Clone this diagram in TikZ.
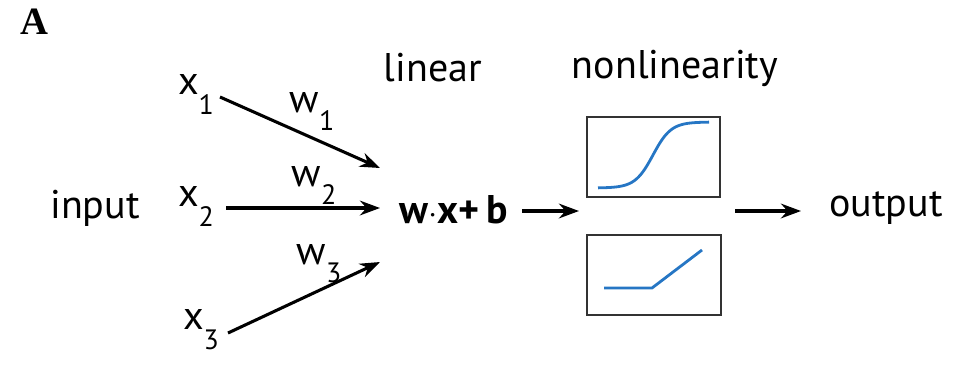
\documentclass[tikz,border=0pt]{standalone}
\usepackage{fontspec}
\setmainfont{PT Sans}
\newfontfamily\panelfont{Liberation Serif}
\usetikzlibrary{arrows.meta}
\definecolor{curveblue}{RGB}{38,118,196}

\tikzset{every picture/.style={line width=0.75pt}}
\tikzset{
  lbl/.style={inner sep=0.75pt, font=\fontsize{30}{34}\selectfont},
  weight/.style={-{Stealth[length=15pt,width=11pt]}, line width=2.3pt},
  fbox/.style={draw=black!80, line width=1.9pt},
  fcurve/.style={draw=curveblue, line width=2.1pt}
}
\newcommand{\xsub}[1]{x\raisebox{-0.5em}{\fontsize{21}{21}\selectfont #1}}

\begin{document}
\begin{tikzpicture}[x=0.75pt,y=0.75pt,yscale=-1,xscale=1]
\path[use as bounding box] (0,0) rectangle (963,365);

% Panel letter
\draw (34,22) node [inner sep=0.75pt] [font=\panelfont\bfseries\fontsize{29}{30}\selectfont] (pA) {A};

% Text Node
\draw (95,208) node [lbl] (inp) {input};
% Text Node
\draw (196,94) node [lbl] (x1) {\xsub{1}};
% Text Node
\draw (196,206) node [lbl] (x2) {\xsub{2}};
% Text Node
\draw (201,330) node [lbl] (x3) {\xsub{3}};
% Text Node
\draw (312,111) node [lbl] (w1) {w\raisebox{-0.45em}{\fontsize{21}{21}\selectfont 1}};
% Text Node
\draw (314,185) node [lbl] (w2) {w\raisebox{-0.45em}{\fontsize{21}{21}\selectfont 2}};
% Text Node
\draw (319,264) node [lbl] (w3) {w\raisebox{-0.45em}{\fontsize{21}{21}\selectfont 3}};
% Text Node
\draw (433,68) node [lbl] (lin) {linear};
% Text Node
\draw (454,210) node [lbl] [font=\bfseries\fontsize{30}{34}\selectfont] (sum) {w$\cdot$x+\,b};
% Text Node
\draw (675,68) node [lbl] (nonlin) {nonlinearity};
% Text Node
\draw (886,208) node [lbl] (out) {output};

% end points of the weights
\coordinate (e1) at (380,168);
\coordinate (e2) at (380,208);
\coordinate (e3) at (380,262);
\coordinate (s1) at (220,97);
\coordinate (s2) at (226,208);
\coordinate (s3) at (228,333);

%Straight Lines
\draw [weight] (s1) -- (e1);
\draw [weight] (s2) -- (e2);
\draw [weight] (s3) -- (e3);

%Shape: Rectangle
\draw [fbox] (587,117) rectangle (720,197);
\draw [fcurve, domain=598:709, samples=80, smooth] plot (\x, {188-66/(1+exp(-(\x-653)/9))});
%Shape: Rectangle
\draw [fbox] (587,235) rectangle (721,315);
\draw [fcurve] (604,288) -- (652,288) -- (702,250);

\coordinate (a1) at (522,211);
\coordinate (a2) at (579,211);
\coordinate (b1) at (735,211);
\coordinate (b2) at (801,211);
\draw [weight] (a1) -- (a2);
\draw [weight] (b1) -- (b2);

\end{tikzpicture}
\end{document}
